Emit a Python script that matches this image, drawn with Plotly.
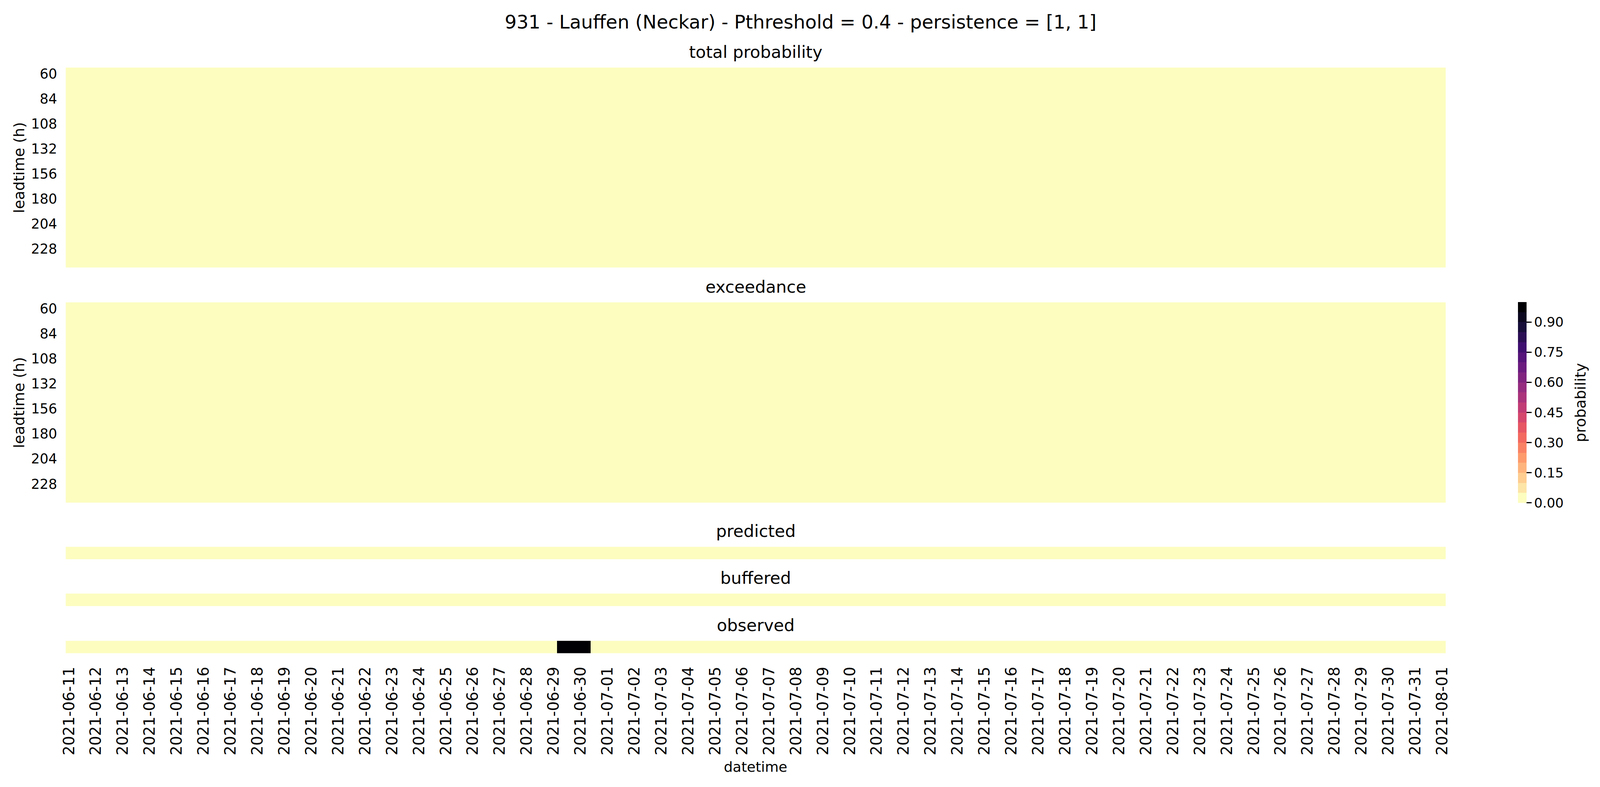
import numpy as np
import pandas as pd
import plotly.graph_objects as go
from plotly.colors import sample_colorscale, sequential

# geometry below is measured on the 4824x2014 reference and used as fractions;
# the browser viewport is 4096x2014, so the figure is drawn at that size
W, H = 4824, 2014
FIG_W, FIG_H = 4096, 2014
SX = FIG_W / W

suptitle = "931 - Lauffen (Neckar) - Pthreshold = 0.4 - persistence = [1, 1]"
panel_titles = ["total probability", "exceedance", "predicted", "buffered", "observed"]

# rows of the two big panels (lead time in hours)
leadtimes = [60, 72, 84, 96, 108, 120, 132, 144, 156, 168, 180, 192, 204, 216, 228, 240]
leadtime_ticks = [60, 84, 108, 132, 156, 180, 204, 228]

# columns: 6-hourly time steps
datetimes = pd.date_range("2021-06-11 00:00", "2021-08-01 00:00", freq="6h")
date_ticks = pd.date_range("2021-06-11", "2021-08-01", freq="D")

# values: everything is 0 except the observed event
total_probability = np.zeros((len(leadtimes), len(datetimes)))
exceedance = np.zeros((len(leadtimes), len(datetimes)))
predicted = np.zeros(len(datetimes))
buffered = np.zeros(len(datetimes))
observed_times = pd.to_datetime(["2021-06-29 06:00", "2021-06-29 12:00", "2021-06-29 18:00",
                                 "2021-06-30 00:00", "2021-06-30 06:00"])
observed = datetimes.isin(observed_times).astype(float)

cbar_ticks = [0.0, 0.15, 0.30, 0.45, 0.60, 0.75, 0.90]


def px_x(x):
    return x / W


def px_y(y):
    return 1 - y / H


# magma_r cut into 20 flat steps, like plt.get_cmap("magma_r", 20)
n_levels = 20
level_colors = sample_colorscale(sequential.Magma_r, [i / (n_levels - 1) for i in range(n_levels)])
colorscale = []
for i, c in enumerate(level_colors):
    colorscale.append([i / n_levels, c])
    colorscale.append([(i + 1) / n_levels, c])

# panel geometry (pixel rows: top, bottom)
x_left, x_right = 181.7, 4371
panel_rows = [(169, 682), (771, 1285), (1398, 1430), (1518, 1550), (1639, 1671)]
panel_data = [total_probability, exceedance, [predicted], [buffered], [observed]]

fig = go.Figure()
layout = dict()
ytick_font = dict(family="DejaVu Sans", size=35, color="black")
xtick_font = dict(family="DejaVu Sans", size=39, color="black")
x_range = [datetimes[0] - pd.Timedelta("3h"), datetimes[-1] + pd.Timedelta("3h")]

for i, (z, (top, bottom)) in enumerate(zip(panel_data, panel_rows)):
    n = i + 1
    big = i < 2
    fig.add_trace(go.Heatmap(
        z=z,
        x=datetimes,
        y=leadtimes if big else [0],
        coloraxis="coloraxis",
        xaxis="x%d" % n,
        yaxis="y%d" % n,
    ))
    last = (i == len(panel_rows) - 1)
    layout["xaxis%d" % n] = dict(
        domain=[px_x(x_left), px_x(x_right)],
        anchor="y%d" % n,
        type="date",
        range=x_range,
        tickmode="array",
        tickvals=list(date_ticks),
        ticktext=[d.strftime("%Y-%m-%d") for d in date_ticks],
        tickangle=-90,
        showticklabels=last,
        ticks="outside" if last else "",
        ticklen=18,
        tickcolor="rgba(0,0,0,0)",
        tickfont=xtick_font,
        showgrid=False, zeroline=False, showline=False,
    )
    layout["yaxis%d" % n] = dict(
        domain=[px_y(bottom), px_y(top)],
        anchor="x%d" % n,
        range=[246, 54] if big else [-0.5, 0.5],
        tickmode="array",
        tickvals=leadtime_ticks if big else [],
        showticklabels=big,
        ticks="outside" if big else "",
        ticklen=14,
        tickcolor="rgba(0,0,0,0)",
        tickfont=ytick_font,
        showgrid=False, zeroline=False, showline=False,
    )

annotations = []
# suptitle
annotations.append(dict(text=suptitle, x=0.5, y=px_y(52), xanchor="center", yanchor="middle",
                        font=dict(family="DejaVu Sans", size=48, color="black")))
# panel titles
x_mid = (x_left + x_right) / 2
for name, (top, bottom) in zip(panel_titles, panel_rows):
    annotations.append(dict(text=name, x=px_x(x_mid), y=px_y(top - 40), xanchor="center",
                            yanchor="middle", font=dict(family="DejaVu Sans", size=43, color="black")))
# axis labels
for top, bottom in panel_rows[:2]:
    annotations.append(dict(text="leadtime (h)", x=px_x(40), y=px_y((top + bottom) / 2),
                            xanchor="center", yanchor="middle", textangle=-90,
                            font=dict(family="DejaVu Sans", size=38, color="black")))
annotations.append(dict(text="datetime", x=px_x(x_mid), y=px_y(1962), xanchor="center",
                        yanchor="middle", font=dict(family="DejaVu Sans", size=36, color="black")))
annotations.append(dict(text="probability", x=px_x(4780), y=px_y(1028), xanchor="center",
                        yanchor="middle", textangle=-90,
                        font=dict(family="DejaVu Sans", size=38, color="black")))
for a in annotations:
    a.update(xref="paper", yref="paper", showarrow=False)

fig.update_layout(
    width=FIG_W, height=FIG_H, autosize=False,
    margin=dict(l=0, r=0, t=0, b=0),
    paper_bgcolor="white", plot_bgcolor="white",
    font=dict(family="DejaVu Sans", color="black"),
    coloraxis=dict(
        colorscale=colorscale, cmin=0, cmax=1,
        colorbar=dict(
            x=px_x(4590), xanchor="left", xpad=0,
            y=px_y(1028), yanchor="middle", ypad=0,
            len=515 / H, lenmode="fraction",
            thickness=26 * SX, thicknessmode="pixels",
            outlinewidth=0,
            tickmode="array", tickvals=cbar_ticks,
            ticktext=["%.2f" % v for v in cbar_ticks],
            ticks="outside", ticklen=13, tickwidth=3, tickcolor="black",
            tickfont=dict(family="DejaVu Sans", size=34, color="black"),
        ),
    ),
    annotations=annotations,
    **layout,
)

fig.write_html("out.html", config={"displayModeBar": False},
               post_script="document.body.style.margin='0';")
